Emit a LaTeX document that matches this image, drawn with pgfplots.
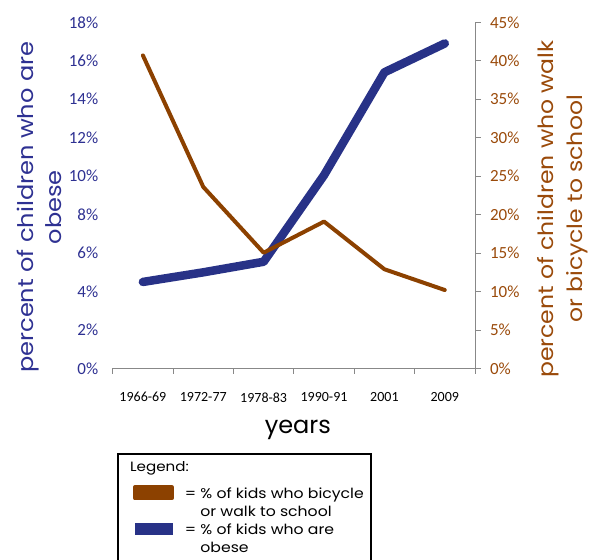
\documentclass[border=0pt]{standalone}
\usepackage{fontspec}
\setmainfont{Poppins}
\newfontfamily\gothic[FakeStretch=1.12]{Poppins}
\newfontfamily\calibri{Carlito}
\usepackage{pgfplots}
\pgfplotsset{compat=1.18}
\definecolor{obblue}{HTML}{283287}
\definecolor{wkbrown}{HTML}{8C4100}
\definecolor{bluetxt}{HTML}{2E3192}
\definecolor{browntxt}{HTML}{9A4A0A}
\definecolor{axgrey}{HTML}{888888}
\begin{document}
\begin{tikzpicture}[x=1pt,y=1pt]
\begin{axis}[
  at={(112.7pt,191.5pt)}, anchor=south west,
  scale only axis, width=362.3pt, height=346.2pt,
  xmin=-0.5, xmax=5.5, ymin=0, ymax=18,
  clip=false,
  axis x line*=bottom, axis y line*=left,
  y axis line style={draw=none},
  x axis line style={draw=axgrey, line width=0.8pt, -},
  tick align=outside,
  major tick length=6pt,
  xtick={0,...,5},
  xticklabels={1966-69,1972-77,1978-83,1990-91,2001,2009},
  minor xtick={-0.5,0.5,...,5.5},
  major x tick style={draw=none},
  minor x tick style={draw=axgrey, line width=0.8pt},
  minor tick length=5.5pt,
  xticklabel style={font=\calibri\fontsize{14}{16}\selectfont, text=black, yshift=-14.5pt},
  ytick={0,2,...,18},
  ytick style={draw=none},
  /pgf/number format/assume math mode=true,
  yticklabel={\pgfmathprintnumber{\tick}\%},
  yticklabel style={font=\calibri\fontsize{17}{19}\selectfont, text=bluetxt, xshift=-5pt},
  ylabel={percent of children who are\\obese},
  ylabel style={at={(axis description cs:-0.203,0.466)}, anchor=center, align=center,
    font=\gothic\fontsize{21.5}{28}\selectfont, text=bluetxt},
  xlabel={years},
  xlabel style={at={(axis description cs:0.511,-0.178)}, anchor=center,
    font=\fontsize{24}{28}\selectfont, text=black},
]
\addplot[obblue, line width=8.5pt, line cap=round, line join=round] coordinates {
  (0,4.5) (1,5.0) (2,5.55) (3,10.05) (4,15.4) (5,16.9)
};
\end{axis}
\begin{axis}[
  at={(112.7pt,191.5pt)}, anchor=south west,
  scale only axis, width=362.3pt, height=346.2pt,
  xmin=-0.5, xmax=5.5, ymin=0, ymax=45,
  clip=false,
  axis y line*=right, axis x line=none,
  y axis line style={draw=axgrey, line width=0.8pt, -},
  tick align=outside,
  major tick length=6pt,
  ytick={0,5,...,45},
  ytick style={draw=axgrey, line width=0.8pt},
  /pgf/number format/assume math mode=true,
  yticklabel={\pgfmathprintnumber{\tick}\%},
  yticklabel style={font=\calibri\fontsize{17}{19}\selectfont, text=browntxt, xshift=5.5pt},
  ylabel={percent of children who walk\\or bicycle to school},
  ylabel style={at={(axis description cs:1.2415,0.461)}, anchor=center, align=center,
    font=\gothic\fontsize{21}{29}\selectfont, text=browntxt},
  legend cell align=left,
  legend style={at={(axis description cs:0.0552,-0.337)}, anchor=north west,
    draw=none, fill=none,
    font=\gothic\fontsize{14}{18}\selectfont,
    inner xsep=0pt, inner ysep=0pt, row sep=1.5pt, column sep=9pt,
    cells={align=left}},
]
\addplot[wkbrown, line width=4pt, line cap=round, line join=round,
  legend image code/.code={\fill[wkbrown] (0pt,5pt) rectangle (37pt,16pt);}] coordinates {
  (0,40.7) (1,23.6) (2,15.05) (3,19.1) (4,12.9) (5,10.2)
};
\addlegendentry{= \% of kids who bicycle\\\hphantom{= }or walk to school}
\addlegendimage{legend image code/.code={\fill[obblue] (0pt,5pt) rectangle (37pt,16pt);}}
\addlegendentry{= \% of kids who are\\\hphantom{= }obese}
\draw[black, line width=1.3pt] (axis description cs:0.0146,-0.247) rectangle (axis description cs:0.713,-0.6);
\node[anchor=west, font=\gothic\fontsize{13.5}{16}\selectfont, inner sep=0pt] at (axis description cs:0.0477,-0.289) {Legend:};
\end{axis}
\pgfresetboundingbox
\path[use as bounding box] (0,0) rectangle (590,560);
\end{tikzpicture}
\end{document}
